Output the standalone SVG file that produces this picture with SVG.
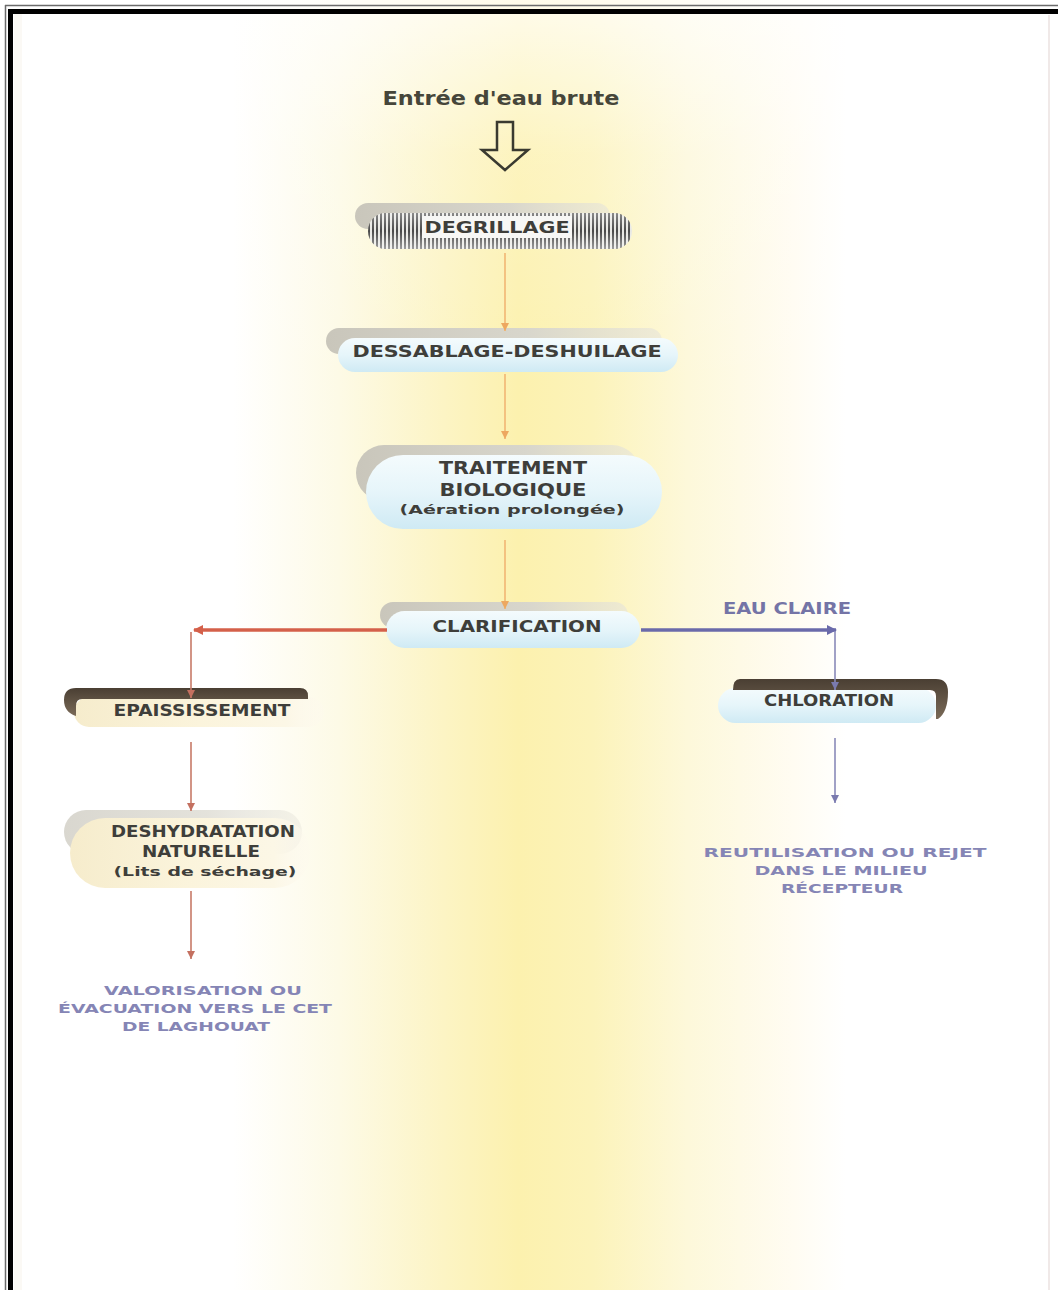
<svg xmlns="http://www.w3.org/2000/svg" width="1058" height="1290" viewBox="0 0 1058 1290">
<style>
.lbl{font-family:"DejaVu Sans","Verdana",sans-serif;font-weight:bold;fill:#3e3e3a;text-anchor:middle}
.out{font-family:"DejaVu Sans","Verdana",sans-serif;font-weight:bold;fill:#8585b5;text-anchor:middle}
.orange{stroke:#f0b674;stroke-width:1.6;fill:none}
.red{stroke:#c77a68;stroke-width:1.6;fill:none}
.blue{stroke:#8a8ab8;stroke-width:1.6;fill:none}
</style>
<defs>
<linearGradient id="band" x1="0" y1="0" x2="1" y2="0">
<stop offset="0" stop-color="#ffffff"/>
<stop offset="0.22" stop-color="#ffffff"/>
<stop offset="0.32" stop-color="#fdfae6"/>
<stop offset="0.42" stop-color="#fcf4c4"/>
<stop offset="0.49" stop-color="#fcf1ae"/>
<stop offset="0.56" stop-color="#fcf3ba"/>
<stop offset="0.65" stop-color="#fdf8da"/>
<stop offset="0.75" stop-color="#fffcf2"/>
<stop offset="0.8" stop-color="#ffffff"/>
<stop offset="1" stop-color="#ffffff"/>
</linearGradient>
<linearGradient id="topfade" x1="0" y1="0" x2="0" y2="1">
<stop offset="0" stop-color="#ffffff" stop-opacity="0.75"/>
<stop offset="0.12" stop-color="#ffffff" stop-opacity="0.2"/>
<stop offset="0.3" stop-color="#ffffff" stop-opacity="0"/>
<stop offset="1" stop-color="#ffffff" stop-opacity="0"/>
</linearGradient>
<linearGradient id="gray" x1="0" y1="0" x2="1" y2="0">
<stop offset="0" stop-color="#c9c6bb"/>
<stop offset="0.6" stop-color="#d8d6cc"/>
<stop offset="1" stop-color="#e6e4da" stop-opacity="0.6"/>
</linearGradient>
<linearGradient id="blue" x1="0" y1="0" x2="0" y2="1">
<stop offset="0" stop-color="#f4fbfd"/>
<stop offset="0.5" stop-color="#e6f5fa"/>
<stop offset="1" stop-color="#cfeaf4"/>
</linearGradient>
<linearGradient id="cream" x1="0" y1="0" x2="1" y2="0">
<stop offset="0" stop-color="#f6eccc"/>
<stop offset="0.5" stop-color="#fbf4dc"/>
<stop offset="0.85" stop-color="#fcf7e6"/>
<stop offset="1" stop-color="#fdf9ee" stop-opacity="0.3"/>
</linearGradient>
<linearGradient id="brown" x1="0" y1="0" x2="0" y2="1">
<stop offset="0" stop-color="#4a3f33"/>
<stop offset="1" stop-color="#7a6a58"/>
</linearGradient>
<pattern id="bars" width="4" height="10" patternUnits="userSpaceOnUse">
<rect width="4" height="10" fill="#e8e8e4"/>
<rect x="0" width="2" height="10" fill="#4a4a4a"/>
</pattern>
<linearGradient id="barsfade" x1="0" y1="0" x2="0" y2="1">
<stop offset="0" stop-color="#ffffff" stop-opacity="0.35"/>
<stop offset="0.5" stop-color="#ffffff" stop-opacity="0"/>
<stop offset="1" stop-color="#ffffff" stop-opacity="0.45"/>
</linearGradient>
<marker id="aO" markerWidth="10" markerHeight="10" refX="8" refY="5" orient="auto" markerUnits="userSpaceOnUse">
<path d="M0,1 L8,5 L0,9 Z" fill="#eda860"/>
</marker>
<marker id="aR" markerWidth="10" markerHeight="10" refX="8" refY="5" orient="auto" markerUnits="userSpaceOnUse">
<path d="M0,1 L8,5 L0,9 Z" fill="#c47060"/>
</marker>
<marker id="aB" markerWidth="10" markerHeight="10" refX="8" refY="5" orient="auto" markerUnits="userSpaceOnUse">
<path d="M0,1 L8,5 L0,9 Z" fill="#7a7aae"/>
</marker>
<marker id="aRT" markerWidth="12" markerHeight="12" refX="9" refY="6" orient="auto" markerUnits="userSpaceOnUse">
<path d="M0,1 L10,6 L0,11 Z" fill="#d4604a"/>
</marker>
<marker id="aBT" markerWidth="12" markerHeight="12" refX="9" refY="6" orient="auto" markerUnits="userSpaceOnUse">
<path d="M0,1 L10,6 L0,11 Z" fill="#6a6aaa"/>
</marker>
</defs>

<rect width="1058" height="1290" fill="#ffffff"/>
<rect width="1058" height="1290" fill="url(#band)"/>
<rect width="1058" height="1290" fill="url(#topfade)"/>
<rect x="14" y="14" width="8" height="1276" fill="#f8f5ee" opacity="0.6"/>
<line x1="1049" y1="15" x2="1049" y2="1290" stroke="#ebe2e0" stroke-width="1.5"/>
<g id="border">
<line x1="5.5" y1="5" x2="5.5" y2="1290" stroke="#6a6a6a" stroke-width="1.5"/>
<line x1="5" y1="5.5" x2="1058" y2="5.5" stroke="#6a6a6a" stroke-width="1.5"/>
<rect x="8" y="9" width="5" height="1281" fill="#000000"/>
<rect x="8" y="9" width="1050" height="5" fill="#000000"/>
</g>

<g id="entree">
<text class="lbl" x="501" y="105" font-size="19" textLength="237" lengthAdjust="spacingAndGlyphs" style="fill:#46463a">Entrée d'eau brute</text>
<path d="M497,122 L513,122 L513,150 L528,150 L505,170 L482,150 L497,150 Z" fill="none" stroke="#3a3a30" stroke-width="2.5" stroke-linejoin="miter"/>
</g>

<g id="degrillage">
<rect x="355" y="203" width="255" height="26" rx="13" fill="url(#gray)"/>
<rect x="368" y="213" width="264" height="36" rx="18" fill="url(#bars)"/>
<rect x="368" y="213" width="264" height="36" rx="18" fill="url(#barsfade)"/>
<rect x="422" y="216" width="150" height="22" fill="#f7f7f5"/>
<text class="lbl" x="497" y="233" font-size="16" textLength="145" lengthAdjust="spacingAndGlyphs">DEGRILLAGE</text>
</g>

<g id="dessablage">
<rect x="326" y="328" width="336" height="26" rx="13" fill="url(#gray)"/>
<rect x="338" y="338" width="340" height="34" rx="17" fill="url(#blue)"/>
<text class="lbl" x="507" y="357" font-size="16" textLength="309" lengthAdjust="spacingAndGlyphs">DESSABLAGE-DESHUILAGE</text>
</g>

<g id="traitement">
<rect x="356" y="445" width="284" height="56" rx="28" fill="url(#gray)"/>
<rect x="366" y="455" width="296" height="74" rx="37" fill="url(#blue)"/>
<text class="lbl" x="513" y="474" font-size="17" textLength="148" lengthAdjust="spacingAndGlyphs">TRAITEMENT</text>
<text class="lbl" x="513" y="496" font-size="17" textLength="147" lengthAdjust="spacingAndGlyphs">BIOLOGIQUE</text>
<text class="lbl" x="512" y="514" font-size="13" textLength="225" lengthAdjust="spacingAndGlyphs">(Aération prolongée)</text>
</g>

<g id="clarification">
<rect x="380" y="602" width="248" height="26" rx="13" fill="url(#gray)"/>
<rect x="386" y="611" width="254" height="37" rx="18.5" fill="url(#blue)"/>
<text class="lbl" x="517" y="632" font-size="16" textLength="169" lengthAdjust="spacingAndGlyphs">CLARIFICATION</text>
</g>

<text class="out" x="787" y="614" font-size="16" textLength="128" lengthAdjust="spacingAndGlyphs" style="fill:#7474a6">EAU CLAIRE</text>

<g id="epaississement">
<rect x="74" y="697" width="250" height="30" rx="15" fill="url(#cream)"/>
<path d="M76,688 L300,688 Q308,688 308,696 L308,699 L82,699 Q76,699 76,706 L76,716 Q64,712 64,700 Q64,688 76,688 Z" fill="url(#brown)"/>
<text class="lbl" x="202" y="716" font-size="15" textLength="177" lengthAdjust="spacingAndGlyphs">EPAISSISSEMENT</text>
</g>

<g id="chloration">
<rect x="718" y="688" width="218" height="35" rx="17.5" fill="url(#blue)"/>
<path d="M740,679 L936,679 Q948,679 948,692 Q948,712 938,719 L936,719 L936,696 Q936,690 930,690 L733,690 Q733,679 740,679 Z" fill="url(#brown)"/>
<text class="lbl" x="829" y="706" font-size="15" textLength="130" lengthAdjust="spacingAndGlyphs">CHLORATION</text>
</g>

<g id="deshydratation">
<rect x="64" y="810" width="238" height="44" rx="22" fill="url(#gray)" opacity="0.7"/>
<rect x="70" y="818" width="240" height="70" rx="35" fill="url(#cream)"/>
<text class="lbl" x="203" y="837" font-size="15" textLength="184" lengthAdjust="spacingAndGlyphs">DESHYDRATATION</text>
<text class="lbl" x="201" y="857" font-size="15" textLength="118" lengthAdjust="spacingAndGlyphs">NATURELLE</text>
<text class="lbl" x="205" y="876" font-size="13" textLength="183" lengthAdjust="spacingAndGlyphs">(Lits de séchage)</text>
</g>

<g id="reutilisation">
<text class="out" x="845" y="857" font-size="13" textLength="283" lengthAdjust="spacingAndGlyphs">REUTILISATION  OU REJET</text>
<text class="out" x="841" y="875" font-size="13" textLength="173" lengthAdjust="spacingAndGlyphs">DANS LE MILIEU</text>
<text class="out" x="842" y="893" font-size="13" textLength="122" lengthAdjust="spacingAndGlyphs">RÉCEPTEUR</text>
</g>

<g id="valorisation">
<text class="out" x="203" y="995" font-size="13" textLength="198" lengthAdjust="spacingAndGlyphs">VALORISATION OU</text>
<text class="out" x="195" y="1013" font-size="13" textLength="274" lengthAdjust="spacingAndGlyphs">ÉVACUATION VERS LE CET</text>
<text class="out" x="196" y="1031" font-size="13" textLength="148" lengthAdjust="spacingAndGlyphs">DE LAGHOUAT</text>
</g>

<g id="connectors">
<line class="orange" x1="505" y1="253" x2="505" y2="331" marker-end="url(#aO)"/>
<line class="orange" x1="505" y1="374" x2="505" y2="439" marker-end="url(#aO)"/>
<line class="orange" x1="505" y1="540" x2="505" y2="609" marker-end="url(#aO)"/>
<line x1="387" y1="630" x2="194" y2="630" stroke="#d4604a" stroke-width="3.5" marker-end="url(#aRT)"/>
<line class="red" x1="191" y1="632" x2="191" y2="698" marker-end="url(#aR)"/>
<line class="red" x1="191" y1="742" x2="191" y2="811" marker-end="url(#aR)"/>
<line class="red" x1="191" y1="891" x2="191" y2="959" marker-end="url(#aR)"/>
<line x1="641" y1="630" x2="836" y2="630" stroke="#6a6aaa" stroke-width="3.5" marker-end="url(#aBT)"/>
<line class="blue" x1="835" y1="632" x2="835" y2="690" marker-end="url(#aB)"/>
<line class="blue" x1="835" y1="738" x2="835" y2="803" marker-end="url(#aB)"/>
</g>
</svg>
